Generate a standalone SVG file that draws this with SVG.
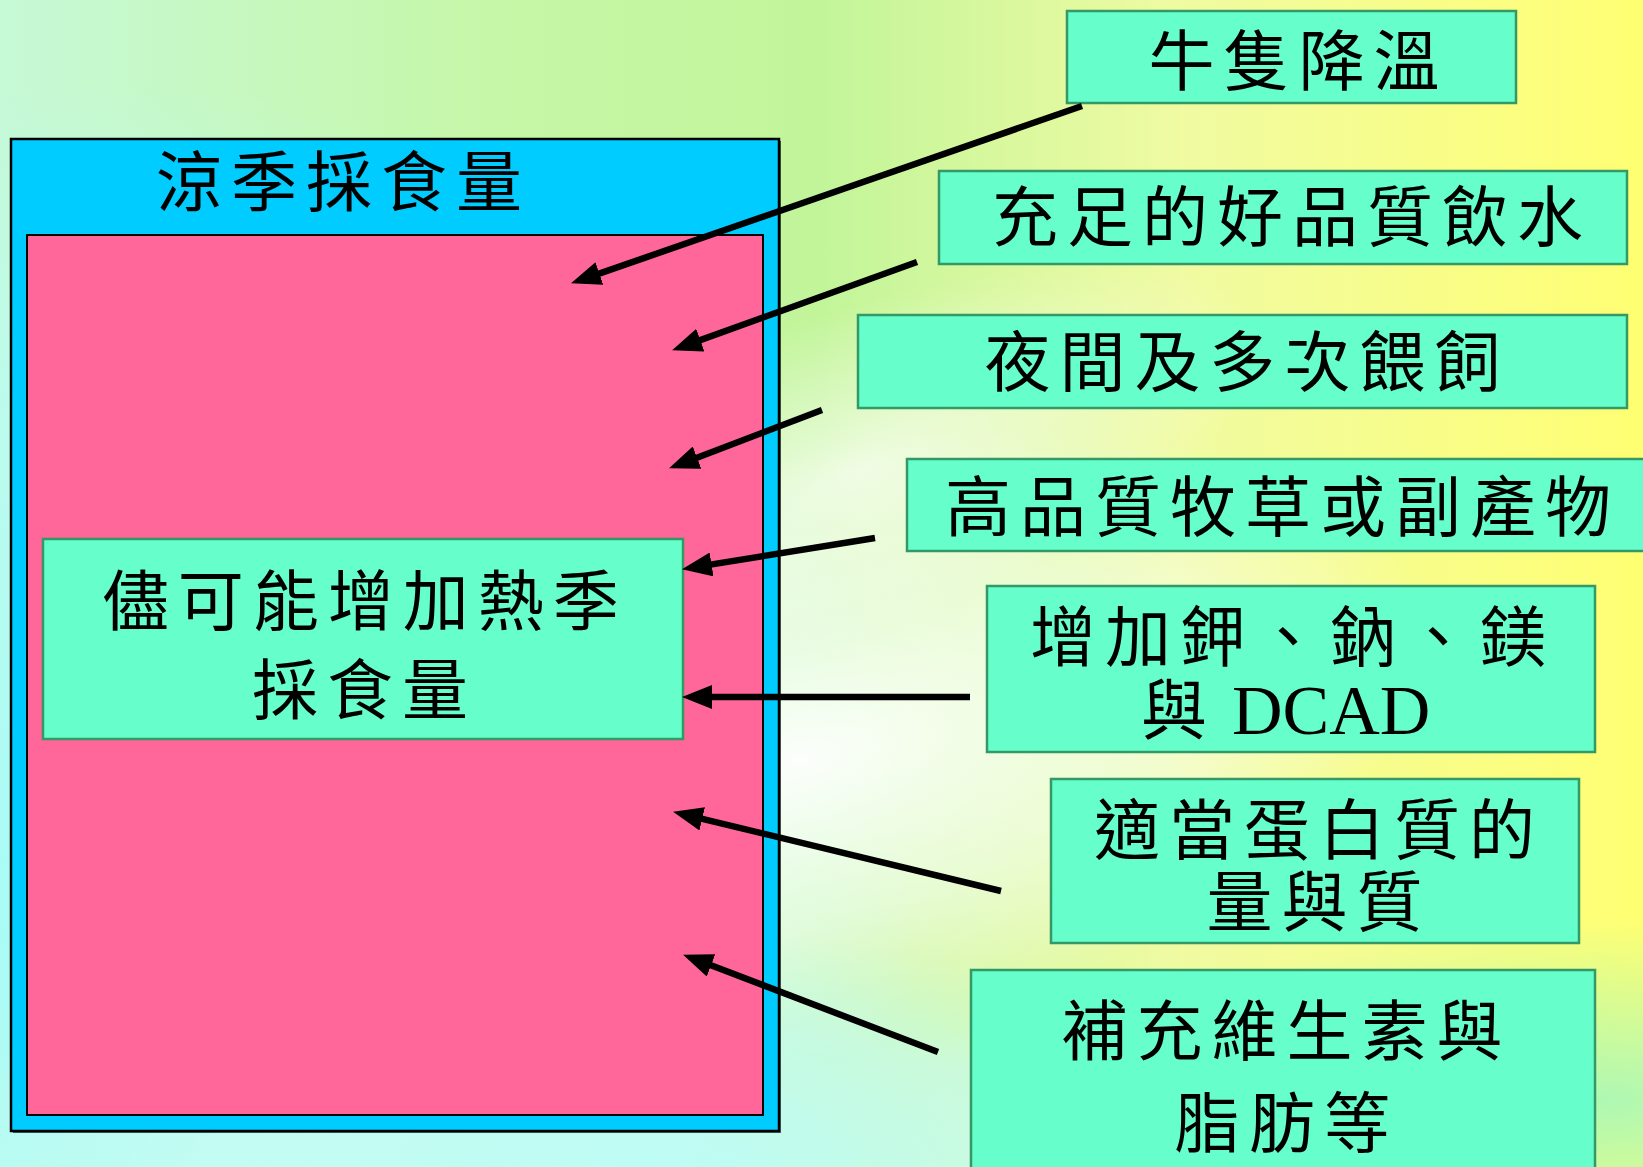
<svg xmlns="http://www.w3.org/2000/svg" width="1643" height="1167" viewBox="0 0 1643 1167">
<style>
.cjk{font-family:"Noto Sans CJK TC","Noto Sans CJK SC",sans-serif;font-size:66px;letter-spacing:9px;fill:#000;text-anchor:middle}
.gbox{fill:#66FFCC;stroke:#339966;stroke-width:2.5}
.conn{stroke:#000;stroke-width:6.5;fill:none;marker-end:url(#ah)}
</style>
<defs>
<linearGradient id="bg" x1="0" y1="0" x2="1" y2="0">
<stop offset="0" stop-color="#c6f9d6"/>
<stop offset="0.3" stop-color="#c6f7a8"/>
<stop offset="0.5" stop-color="#c2f59a"/>
<stop offset="0.72" stop-color="#f0fba2"/>
<stop offset="1" stop-color="#ffff72"/>
</linearGradient>
<radialGradient id="cyan" cx="100" cy="900" r="820" gradientUnits="userSpaceOnUse">
<stop offset="0" stop-color="#a6fbf8" stop-opacity="1"/>
<stop offset="0.6" stop-color="#b8fcf4" stop-opacity="0.75"/>
<stop offset="1" stop-color="#b8fcf4" stop-opacity="0"/>
</radialGradient>
<radialGradient id="glow" cx="0" cy="0" r="1" gradientUnits="userSpaceOnUse" gradientTransform="translate(800 760) rotate(-14) scale(640 300)">
<stop offset="0" stop-color="#ffffff" stop-opacity="0.95"/>
<stop offset="0.55" stop-color="#f6fff6" stop-opacity="0.6"/>
<stop offset="1" stop-color="#ffffff" stop-opacity="0"/>
</radialGradient>
<radialGradient id="glow2" cx="0" cy="0" r="1" gradientUnits="userSpaceOnUse" gradientTransform="translate(860 470) rotate(-20) scale(420 160)">
<stop offset="0" stop-color="#ffffff" stop-opacity="0.7"/>
<stop offset="1" stop-color="#ffffff" stop-opacity="0"/>
</radialGradient>
<radialGradient id="bot" cx="0" cy="0" r="1" gradientUnits="userSpaceOnUse" gradientTransform="translate(650 1167) scale(750 230)">
<stop offset="0" stop-color="#bdfcf6" stop-opacity="1"/>
<stop offset="0.6" stop-color="#c8fcf4" stop-opacity="0.7"/>
<stop offset="1" stop-color="#c8fcf4" stop-opacity="0"/>
</radialGradient>
<radialGradient id="grn" cx="0" cy="0" r="1" gradientUnits="userSpaceOnUse" gradientTransform="translate(1600 1100) scale(500 180)">
<stop offset="0" stop-color="#aef8b4" stop-opacity="1"/>
<stop offset="1" stop-color="#aef8b4" stop-opacity="0"/>
</radialGradient>
<marker id="ah" viewBox="0 0 30 24" refX="17" refY="12" markerWidth="30" markerHeight="24" markerUnits="userSpaceOnUse" orient="auto">
<path d="M0,0 L30,12 L0,24 z" fill="#000"/>
</marker>
</defs>

<g id="background">
<rect x="0" y="0" width="1643" height="1167" fill="url(#bg)"/>
<rect x="0" y="0" width="1643" height="1167" fill="url(#cyan)"/>
<rect x="0" y="0" width="1643" height="1167" fill="url(#glow)"/>
<rect x="0" y="0" width="1643" height="1167" fill="url(#glow2)"/>
<rect x="0" y="0" width="1643" height="1167" fill="url(#bot)"/>
<rect x="0" y="0" width="1643" height="1167" fill="url(#grn)"/>
</g>

<g id="cool-season-intake">
<rect x="13" y="141" width="768" height="992" fill="#000" opacity="0.6"/>
<rect x="11" y="139" width="768" height="992" fill="#00CCFF" stroke="#000" stroke-width="2.5"/>
<text class="cjk" x="343.5" y="205.5">涼季採食量</text>
</g>

<g id="inner-area">
<rect x="28" y="236" width="736" height="880" fill="#000" opacity="0.6"/>
<rect x="27" y="235" width="736" height="880" fill="#FF6699" stroke="#000" stroke-width="2"/>
</g>

<g id="hot-season-intake">
<rect class="gbox" x="43" y="539" width="640" height="200"/>
<text class="cjk" x="365.3" y="625">儘可能增加熱季</text>
<text class="cjk" x="364.5" y="714">採食量</text>
</g>

<g id="cooling">
<rect class="gbox" x="1067" y="11" width="449" height="92"/>
<text class="cjk" x="1298.5" y="85">牛隻降溫</text>
</g>

<g id="water">
<rect class="gbox" x="939" y="171" width="688" height="93"/>
<text class="cjk" x="1292" y="241">充足的好品質飲水</text>
</g>

<g id="feeding">
<rect class="gbox" x="858" y="315" width="769" height="93"/>
<text class="cjk" x="1247" y="386">夜間及多次餵飼</text>
</g>

<g id="forage">
<rect class="gbox" x="907" y="459" width="740" height="92"/>
<text class="cjk" x="1282.5" y="531">高品質牧草或副產物</text>
</g>

<g id="minerals">
<rect class="gbox" x="987" y="586" width="608" height="166"/>
<text class="cjk" x="1292.5" y="660.5">增加鉀、鈉、鎂</text>
<text class="cjk" x="1141" y="734" style="text-anchor:start">與<tspan x="1232" style="font-family:'Liberation Serif',serif;letter-spacing:0px;font-size:70px">DCAD</tspan></text>
</g>

<g id="protein">
<rect class="gbox" x="1051" y="779" width="528" height="164"/>
<text class="cjk" x="1319" y="854">適當蛋白質的</text>
<text class="cjk" x="1319" y="925.7">量與質</text>
</g>

<g id="vitamins">
<rect class="gbox" x="971" y="970" width="624" height="210"/>
<text class="cjk" x="1286.5" y="1055">補充維生素與</text>
<text class="cjk" x="1286.5" y="1147">脂肪等</text>
</g>

<g id="connectors">
<line class="conn" x1="1082" y1="106" x2="583.3" y2="279.1"/>
<line class="conn" x1="917" y1="262" x2="684.3" y2="345.9"/>
<line class="conn" x1="822" y1="410" x2="681.2" y2="463.7"/>
<line class="conn" x1="875" y1="538" x2="694.8" y2="567.1"/>
<line class="conn" x1="970" y1="697" x2="695" y2="697"/>
<line class="conn" x1="1001" y1="891" x2="685.7" y2="814.8"/>
<line class="conn" x1="938" y1="1052" x2="695.2" y2="959.3"/>
</g>
</svg>
